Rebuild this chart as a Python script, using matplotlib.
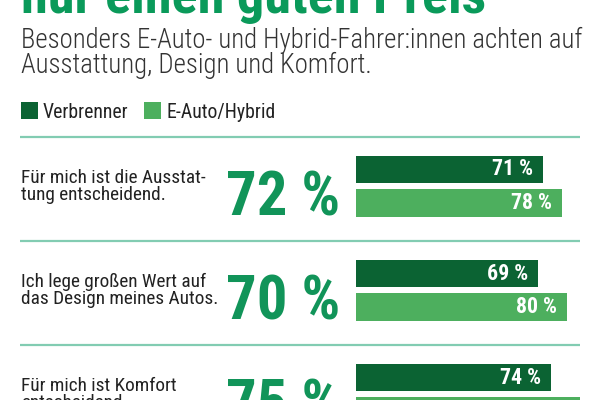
import matplotlib
matplotlib.use("Agg")
import matplotlib.pyplot as plt
from matplotlib import font_manager as fm
from matplotlib.patches import Rectangle

# ---------------- data ----------------
title = "nur einen guten Preis"
subtitle_lines = ["Besonders E-Auto- und Hybrid-Fahrer:innen achten auf",
                  "Ausstattung, Design und Komfort."]
series_names = ["Verbrenner", "E-Auto/Hybrid"]
statements = [["Für mich ist die Ausstat-", "tung entscheidend."],
              ["Ich lege großen Wert auf", "das Design meines Autos."],
              ["Für mich ist Komfort", "entscheidend."]]
totals = [72, 70, 75]
verbrenner = [71, 69, 74]
eauto = [78, 80, 85]

# ---------------- style ----------------
C_DARK = "#0b6333"
C_LIGHT = "#4daf5e"
C_BIG = "#119459"
C_TITLE = "#0a9a5a"
C_DIV = "#82ccb2"
C_TEXT = "#222222"
C_SUB = "#333333"

avail = {f.name for f in fm.fontManager.ttflist}


def pick(*names):
    for n in names:
        if n in avail:
            return n
    return "DejaVu Sans"


NARROW = pick("Liberation Sans Narrow", "DejaVu Sans Condensed", "Roboto Condensed",
              "Open Sans Condensed", "Liberation Sans")

W, H = 600, 400
fig = plt.figure(figsize=(6, 4), dpi=100)
fig.patch.set_facecolor("white")


def fx(x):
    return x / W


def fy(y):
    return 1 - y / H


# row geometry (pixel based, rows 104 px apart)
ROW0, ROWSTEP = 186.25, 104.0
ytop = -ROW0 / ROWSTEP
ybot = (H - ROW0) / ROWSTEP

# overlay axes for text / dividers: x in pixels, y in row units
ax0 = fig.add_axes([0, 0, 1, 1])
ax0.set_xlim(0, W)
ax0.set_ylim(ybot, ytop)
ax0.axis("off")

# bar axes: x in percent
PX_PER_PCT = 2.64
BAR_X0 = 356
axb = fig.add_axes([fx(BAR_X0), 0, (W - BAR_X0) / W, 1])
axb.set_xlim(0, (W - BAR_X0) / PX_PER_PCT)
axb.set_ylim(ybot, ytop)
axb.axis("off")

rows = list(range(len(totals)))
off = 16.75 / ROWSTEP
bh = 27.5 / ROWSTEP
axb.barh([r - off for r in rows], verbrenner, height=bh, color=C_DARK, left=0)
axb.barh([r + off for r in rows], eauto, height=bh, color=C_LIGHT, left=0)

label_texts = []
pad = 10 / PX_PER_PCT
for r, v in zip(rows, verbrenner):
    label_texts.append(axb.text(v - pad, r - off + 6 / ROWSTEP, f"{v} %", ha="right",
                                va="baseline", color="white", fontsize=12,
                                fontweight="bold", family=[NARROW, "DejaVu Sans"]))
for r, v in zip(rows, eauto):
    label_texts.append(axb.text(v - pad, r + off + 6 / ROWSTEP, f"{v} %", ha="right",
                                va="baseline", color="white", fontsize=12,
                                fontweight="bold", family=[NARROW, "DejaVu Sans"]))

# dividers
for r in rows:
    ax0.hlines(r - 49.3 / ROWSTEP, 20, 580, color=C_DIV, lw=1.6)

# statements
stmt_texts = []
for r, lines in zip(rows, statements):
    for k, line in enumerate(lines):
        t = ax0.text(21, r + (-3 + 17 * k) / ROWSTEP, line, ha="left",
                     va="baseline", color=C_TEXT, fontsize=13, fontweight="normal",
                     family=[NARROW, "DejaVu Sans"])
        stmt_texts.append(t)

# big totals
big_texts = []
for r, v in zip(rows, totals):
    big_texts.append(ax0.text(283, r + 29.5 / ROWSTEP, f"{v} %", ha="center",
                              va="baseline", color=C_BIG, fontsize=50,
                              fontweight="bold", family=[NARROW, "DejaVu Sans"]))

# title, subtitle
t_title = fig.text(fx(21), fy(13), title, ha="left", va="baseline", color=C_TITLE,
                   fontsize=48, fontweight="bold", family=[NARROW, "DejaVu Sans"])
sub_texts = []
for k, line in enumerate(subtitle_lines):
    sub_texts.append(fig.text(fx(21), fy(48 + 25 * k), line, ha="left", va="baseline",
                              color=C_SUB, fontsize=16, fontweight="light",
                              family=[NARROW, "DejaVu Sans"]))

# legend
leg_x = [21, 144]
leg_colors = [C_DARK, C_LIGHT]
leg_texts = []
for x, c, name in zip(leg_x, leg_colors, series_names):
    fig.add_artist(Rectangle((fx(x), fy(119)), 17 / W, 17 / H, transform=fig.transFigure,
                             facecolor=c, edgecolor="none"))
    leg_texts.append(fig.text(fx(x + 22), fy(118), name, ha="left", va="baseline",
                              color=C_TEXT, fontsize=13, fontweight="normal",
                              family=[NARROW, "DejaVu Sans"]))

# ---- fit font sizes to the widths measured on the reference ----
fig.canvas.draw()
rend = fig.canvas.get_renderer()


def fit(ts, ref, target):
    w = ref.get_window_extent(rend).width
    s = ref.get_fontsize() * target / w
    for t in ts:
        t.set_fontsize(s)


fit([t_title], t_title, 464)
fit(sub_texts, sub_texts[0], 561)
fit(leg_texts, leg_texts[0], 85)
fit(stmt_texts, stmt_texts[0], 183)
fit(big_texts, big_texts[0], 114)
fit(label_texts, label_texts[0], 41)

fig.savefig("out.png", dpi=100, facecolor="white")
